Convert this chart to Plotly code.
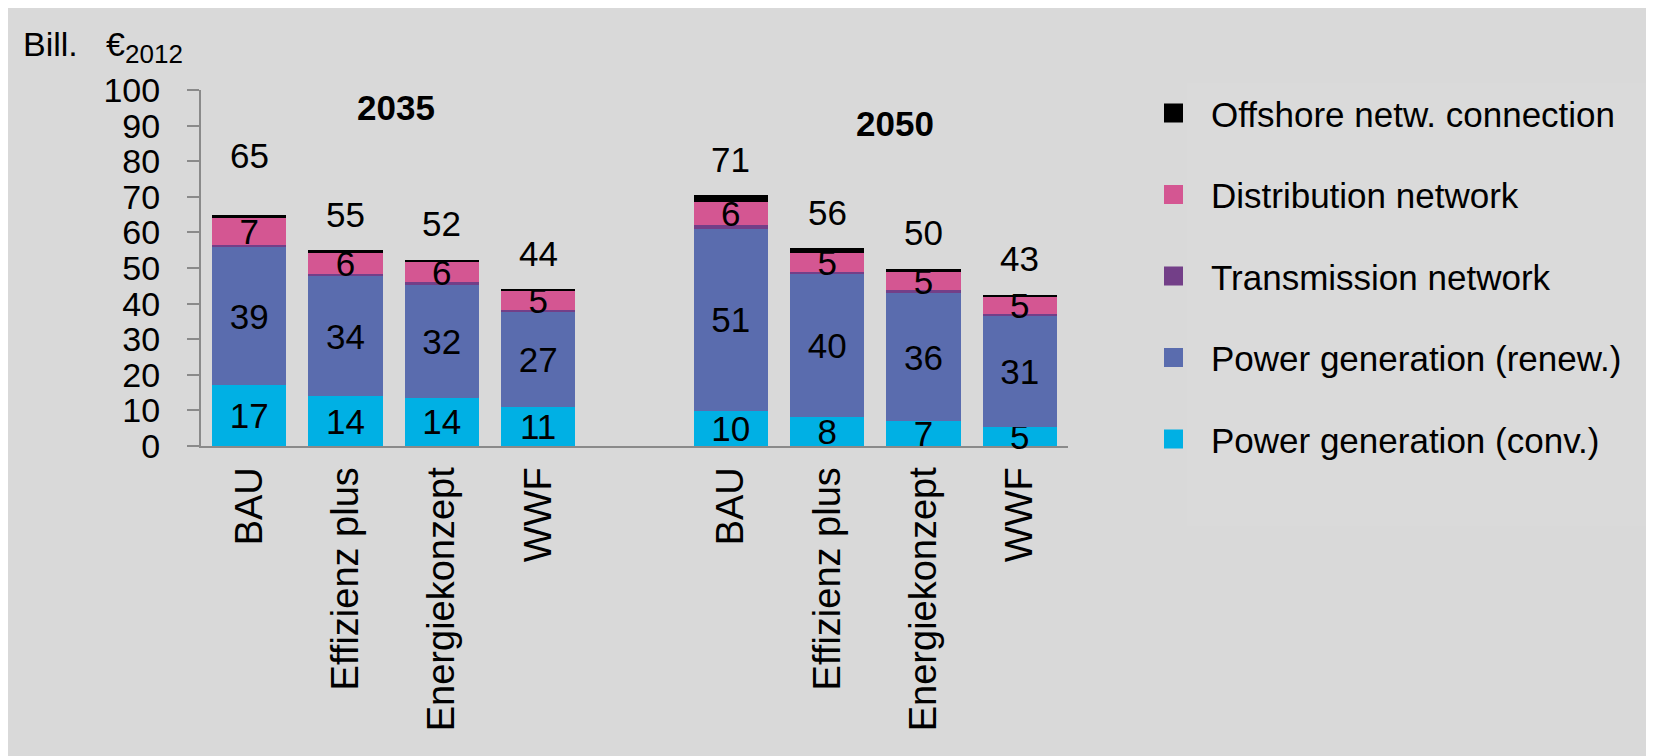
import plotly.graph_objects as go

# ---------------- data ----------------
years = ["2035", "2050"]
scenarios = ["BAU", "Effizienz plus", "Energiekonzept", "WWF"]

conv_2035 = [17.0, 14.0, 13.6, 11.0]
renew_2035 = [38.8, 33.7, 31.5, 26.6]
trans_2035 = [0.8, 0.7, 0.9, 0.6]
dist_2035 = [7.4, 5.7, 5.6, 5.3]
offshore_2035 = [1.0, 0.9, 0.7, 0.6]
totals_2035 = [65, 55, 52, 44]

conv_2050 = [9.8, 8.2, 6.9, 5.4]
renew_2050 = [51.2, 40.0, 36.0, 31.3]
trans_2050 = [1.1, 0.8, 0.8, 0.4]
dist_2050 = [6.4, 5.2, 5.2, 5.0]
offshore_2050 = [2.0, 1.4, 0.9, 0.4]
totals_2050 = [71, 56, 50, 43]

series_names = [
    "Power generation (conv.)",
    "Power generation (renew.)",
    "Transmission network",
    "Distribution network",
    "Offshore netw. connection",
]
series_2035 = [conv_2035, renew_2035, trans_2035, dist_2035, offshore_2035]
series_2050 = [conv_2050, renew_2050, trans_2050, dist_2050, offshore_2050]

# ---------------- styling ----------------
colors = ["#00b0e4", "#5a6cae", "#733f88", "#d45692", "#000000"]
show_label = [True, True, False, True, False]
FONT = "Liberation Sans, Arial, sans-serif"
BG = "#d9d9d9"
AXIS = "#8a8a8a"

# x positions: one empty slot between the two year groups
x_pos = [i for i in range(len(scenarios))] + [i + len(scenarios) + 1 for i in range(len(scenarios))]
tick_text = scenarios + scenarios

fig = go.Figure()
stack_tops = [0.0] * len(x_pos)
for k, name in enumerate(series_names):
    vals = series_2035[k] + series_2050[k]
    stack_tops = [a + b for a, b in zip(stack_tops, vals)]
    fig.add_trace(go.Bar(
        x=x_pos, y=vals, name=name,
        marker=dict(color=colors[k], line=dict(width=0)),
        texttemplate="%{y:.0f}" if show_label[k] else None,
        textposition="inside" if show_label[k] else "none",
        insidetextanchor="middle",
        textangle=0,
        cliponaxis=False,
        constraintext="none",
        textfont=dict(size=35, color="black", family=FONT),
        showlegend=False,
        hoverinfo="skip",
    ))

# legend entries (top to bottom)
for k in reversed(range(len(series_names))):
    fig.add_trace(go.Scatter(
        x=[None], y=[None], mode="markers", name=series_names[k],
        legendgroup=series_names[k],
        marker=dict(symbol="square", size=16, color=colors[k],
                    line=dict(color=colors[k], width=3)),
    ))

# totals above stacks
totals = totals_2035 + totals_2050
for i, t in enumerate(totals):
    shift = 59 if i == 0 else 36
    fig.add_annotation(x=x_pos[i], y=stack_tops[i], text=str(t), showarrow=False,
                       xanchor="center", yanchor="middle", yshift=shift,
                       font=dict(size=35, color="black", family=FONT))

# year headings
fig.add_annotation(xref="paper", yref="paper", x=0.2249, y=0.951, text="<b>" + years[0] + "</b>",
                   showarrow=False, xanchor="center", yanchor="middle",
                   font=dict(size=35, color="black", family=FONT))
fig.add_annotation(xref="paper", yref="paper", x=0.8005, y=0.9045, text="<b>" + years[1] + "</b>",
                   showarrow=False, xanchor="center", yanchor="middle",
                   font=dict(size=35, color="black", family=FONT))

# unit label
fig.add_annotation(xref="paper", yref="paper", x=-0.2075, y=1.1195, xanchor="left", yanchor="middle",
                   text="Bill.   €<sub><span style=\"font-size:26px\">2012</span></sub>", showarrow=False,
                   font=dict(size=34, color="black", family=FONT))

# faint lighter panel behind legend text
fig.add_shape(type="rect", xref="paper", yref="paper", x0=1.1373, x1=1.7, y0=-0.2247, y1=1.0197,
              fillcolor="#dadada", line=dict(width=0), layer="below")

fig.update_layout(
    width=1654, height=756,
    margin=dict(l=193, r=594, t=82, b=318),
    paper_bgcolor=BG, plot_bgcolor=BG,
    barmode="stack", bargap=0.23,
    font=dict(family=FONT, size=34, color="black"),
    uniformtext=dict(minsize=35, mode="show"),
    showlegend=True,
    legend=dict(x=1.0784, xanchor="left", y=1.0176, yanchor="top",
                font=dict(size=35, color="black", family=FONT),
                bgcolor="rgba(0,0,0,0)", tracegroupgap=33, itemwidth=65,
                itemsizing="trace", traceorder="grouped", maxheight=700),
    xaxis=dict(range=[-0.5, len(x_pos) + 0.5], tickmode="array", tickvals=x_pos, ticktext=tick_text,
               tickangle=-90, showgrid=False, zeroline=False, showline=True, linecolor=AXIS,
               linewidth=2, ticks="", tickfont=dict(size=38, family=FONT, color="black"),
               ticklabelstandoff=4, fixedrange=True, layer="below traces"),
    yaxis=dict(range=[0, 100], tickmode="array", tickvals=list(range(0, 101, 10)),
               showgrid=False, zeroline=False, showline=True, linecolor=AXIS, linewidth=2,
               ticks="outside", ticklen=12, tickwidth=2, tickcolor=AXIS,
               tickfont=dict(size=34, family=FONT, color="black"), ticklabelstandoff=20,
               fixedrange=True),
)

fig.write_html("out.html")
